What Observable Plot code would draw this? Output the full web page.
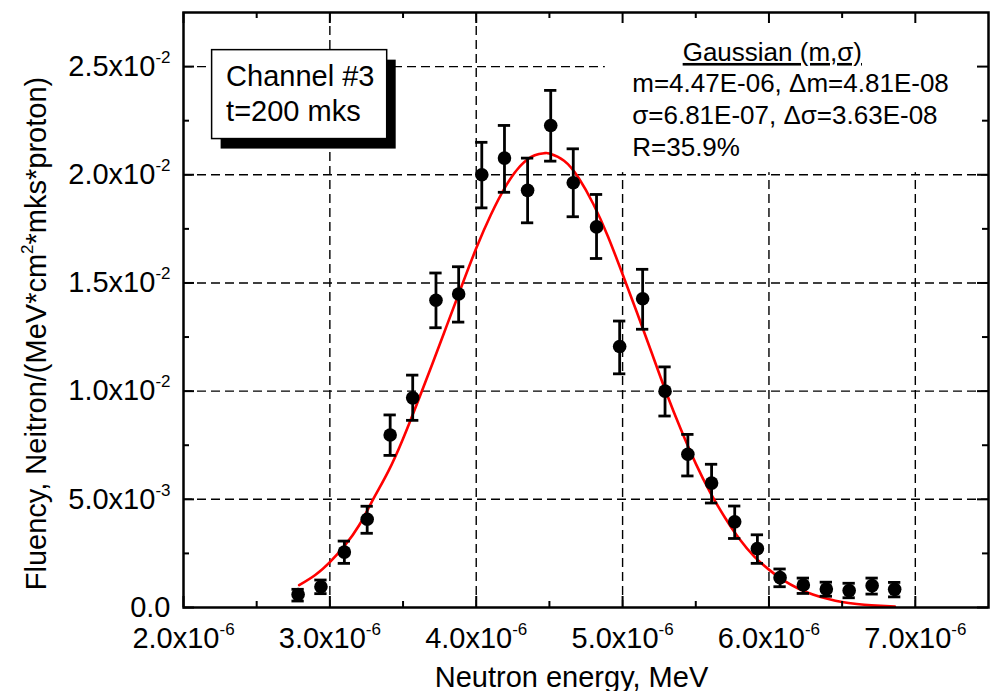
<!DOCTYPE html>
<html><head><meta charset="utf-8">
<script src="https://cdn.jsdelivr.net/npm/d3@7"></script>
<script src="https://cdn.jsdelivr.net/npm/@observablehq/plot@0.6"></script>
<style>body{margin:0;background:#fff}</style>
</head><body><div id="chart"></div>
<script>
// ---- data (energy in 1e-6 MeV, fluency in 1e-3) ----
const energy  = [2.783, 2.939, 3.099, 3.255, 3.412, 3.566, 3.725, 3.880, 4.038, 4.193, 4.351, 4.509, 4.663, 4.822, 4.980, 5.137, 5.290, 5.446, 5.608, 5.766, 5.921, 6.076, 6.235, 6.392, 6.548, 6.705, 6.859];
const fluency = [0.60, 0.96, 2.56, 4.08, 7.97, 9.69, 14.20, 14.49, 20.00, 20.77, 19.28, 22.28, 19.63, 17.59, 12.06, 14.27, 10.00, 7.08, 5.75, 3.96, 2.72, 1.38, 1.04, 0.85, 0.78, 1.01, 0.84];
const errHigh = [0.84, 1.27, 3.07, 4.68, 8.90, 10.74, 15.46, 15.75, 21.50, 22.28, 20.77, 23.90, 21.20, 19.09, 13.24, 15.63, 11.12, 8.00, 6.62, 4.69, 3.36, 1.78, 1.36, 1.17, 1.12, 1.36, 1.16];
const errLow  = [0.30, 0.64, 2.04, 3.43, 7.03, 8.65, 12.93, 13.19, 18.47, 19.19, 17.78, 20.63, 18.06, 16.13, 10.80, 12.86, 8.85, 6.08, 4.83, 3.19, 2.04, 0.96, 0.65, 0.52, 0.45, 0.62, 0.49];

// Gaussian fit curve
const fitEnergy  = [2.79, 2.9, 3.0, 3.1, 3.2, 3.3, 3.4, 3.5, 3.6, 3.7, 3.8, 3.9, 4.0, 4.1, 4.2, 4.3, 4.4, 4.47, 4.5, 4.6, 4.7, 4.8, 4.9, 5.0, 5.1, 5.2, 5.3, 5.4, 5.5, 5.6, 5.7, 5.8, 5.9, 6.0, 6.1, 6.2, 6.3, 6.4, 6.5, 6.6, 6.7, 6.86];
const fitFluency = [1.03, 1.50, 2.10, 2.85, 3.80, 5.05, 6.30, 7.80, 9.50, 11.25, 13.05, 14.85, 16.60, 18.15, 19.45, 20.40, 20.90, 21.00, 20.98, 20.65, 19.85, 18.65, 17.15, 15.40, 13.60, 11.75, 9.90, 8.20, 6.65, 5.30, 4.15, 3.15, 2.35, 1.75, 1.25, 0.88, 0.60, 0.40, 0.25, 0.16, 0.10, 0.04];

// axes
const xTicks = [2e-6, 3e-6, 4e-6, 5e-6, 6e-6, 7e-6];
const xTickLabels = ["2.0x10^{-6}", "3.0x10^{-6}", "4.0x10^{-6}", "5.0x10^{-6}", "6.0x10^{-6}", "7.0x10^{-6}"];
const xMinor = [2.5e-6, 3.5e-6, 4.5e-6, 5.5e-6, 6.5e-6];
const yTicks = [0, 0.005, 0.010, 0.015, 0.020, 0.025];
const yTickLabels = ["0.0", "5.0x10^{-3}", "1.0x10^{-2}", "1.5x10^{-2}", "2.0x10^{-2}", "2.5x10^{-2}"];
const yMinor = [0.0025, 0.0075, 0.0125, 0.0175, 0.0225];
const xTitle = "Neutron energy, MeV";
const yTitle = "Fluency, Neitron/(MeV*cm^{2}*mks*proton)";
const channelText = ["Channel #3", "t=200 mks"];
const fitTitle = "Gaussian (m,σ)";
const fitText = ["m=4.47E-06, Δm=4.81E-08", "σ=6.81E-07, Δσ=3.63E-08", "R=35.9%"];

// ---- build tables ----
const points = energy.map((e, i) => ({x: e * 1e-6, y: fluency[i] * 1e-3, hi: errHigh[i] * 1e-3, lo: errLow[i] * 1e-3}));
const fit = fitEnergy.map((e, i) => ({x: e * 1e-6, y: fitFluency[i] * 1e-3}));
const xGrid = xTicks.slice(1);
const yGrid = yTicks.slice(1);
const cap = 0.042e-6;

const coverBox = [{x1: 4.882e-6, x2: 7.5e-6, y1: 0.0201, y2: 0.0275}];
const chanBox = [{x1: 2.1955e-6, x2: 3.3917e-6, y1: 0.02165, y2: 0.02576}];
const chanLabels = [{x: 2.291e-6, y: 0.02410, t: channelText[0]}, {x: 2.291e-6, y: 0.02248, t: channelText[1]}];
const fitLabels = [
  {x: 5.066e-6, y: 0.02382, t: fitText[0]},
  {x: 5.066e-6, y: 0.02234, t: fitText[1]},
  {x: 5.066e-6, y: 0.02086, t: fitText[2]}
];

const FH = 595, FW = 805;
const dash = {stroke: "black", strokeWidth: 1.4, strokeDasharray: "9,5"};
const font = "Liberation Sans, Arial, Helvetica, sans-serif";

const chart = Plot.plot({
  width: 998, height: 691,
  marginLeft: 183, marginRight: 10, marginTop: 12, marginBottom: 84,
  style: {fontFamily: font, fontSize: "29px", background: "white", color: "black"},
  x: {domain: [2e-6, 7.5e-6], axis: null},
  y: {domain: [0, 0.0275], axis: null},
  marks: [
    Plot.ruleX(xGrid, dash),
    Plot.ruleY(yGrid, dash),
    Plot.rect(coverBox, {x1: "x1", x2: "x2", y1: "y1", y2: "y2", fill: "white"}),
    Plot.rect(chanBox, {x1: "x1", x2: "x2", y1: "y1", y2: "y2", fill: "black", dx: 9, dy: 10}),
    Plot.rect(chanBox, {x1: "x1", x2: "x2", y1: "y1", y2: "y2", fill: "white", stroke: "black", strokeWidth: 1.5}),
    Plot.text(chanLabels, {x: "x", y: "y", text: "t", textAnchor: "start", lineAnchor: "bottom", fontSize: 29}),
    Plot.text([fitTitle], {x: () => 6.023e-6, y: () => 0.02526, text: d => d, textAnchor: "middle", lineAnchor: "bottom", fontSize: 26}),
    Plot.text(fitLabels, {x: "x", y: "y", text: "t", textAnchor: "start", lineAnchor: "bottom", fontSize: 26}),
    Plot.line(fit, {x: "x", y: "y", stroke: "red", strokeWidth: 2.6, curve: "natural"}),
    Plot.ruleX(points, {x: "x", y1: "lo", y2: "hi", stroke: "black", strokeWidth: 2.8}),
    Plot.ruleY(points, {y: "hi", x1: d => d.x - cap, x2: d => d.x + cap, stroke: "black", strokeWidth: 2.8}),
    Plot.ruleY(points, {y: "lo", x1: d => d.x - cap, x2: d => d.x + cap, stroke: "black", strokeWidth: 2.8}),
    Plot.dot(points, {x: "x", y: "y", r: 6.8, fill: "black"}),
    // inward ticks on all four sides
    Plot.ruleX(xTicks, {insetTop: FH - 11, stroke: "black", strokeWidth: 2}),
    Plot.ruleX(xTicks, {insetBottom: FH - 11, stroke: "black", strokeWidth: 2}),
    Plot.ruleX(xMinor, {insetTop: FH - 6, stroke: "black", strokeWidth: 2}),
    Plot.ruleX(xMinor, {insetBottom: FH - 6, stroke: "black", strokeWidth: 2}),
    Plot.ruleY(yTicks, {insetRight: FW - 11, stroke: "black", strokeWidth: 2}),
    Plot.ruleY(yTicks, {insetLeft: FW - 11, stroke: "black", strokeWidth: 2}),
    Plot.ruleY(yMinor, {insetRight: FW - 6, stroke: "black", strokeWidth: 2}),
    Plot.ruleY(yMinor, {insetLeft: FW - 6, stroke: "black", strokeWidth: 2}),
    Plot.frame({stroke: "black", strokeWidth: 2.5}),
    Plot.axisX({anchor: "bottom", ticks: xTicks, tickFormat: d => xTickLabels[xTicks.indexOf(d)], tickSize: 0, tickPadding: 20, fontSize: 29, label: null}),
    Plot.axisY({anchor: "left", ticks: yTicks, tickFormat: d => yTickLabels[yTicks.indexOf(d)], tickSize: 0, tickPadding: 13, fontSize: 29, label: null}),
    Plot.text([xTitle], {frameAnchor: "bottom", text: d => d, dx: -14.5, dy: 79, lineAnchor: "bottom", textAnchor: "middle", fontSize: 29}),
    Plot.text([yTitle], {frameAnchor: "left", text: d => d, rotate: -90, dx: -138, dy: 23.5, lineAnchor: "bottom", textAnchor: "middle", fontSize: 29})
  ]
});
document.getElementById("chart").append(chart);

// superscripts: "a^{b}c" -> tspans
const NS = "http://www.w3.org/2000/svg";
chart.querySelectorAll("text").forEach(el => {
  const s = el.textContent;
  if (s.startsWith("Gaussian")) el.style.textDecoration = "underline";
  if (!s.includes("^{")) return;
  const parts = s.split(/\^\{([^}]*)\}/);
  el.textContent = "";
  let raised = false;
  parts.forEach((p, i) => {
    if (p === "") return;
    const t = document.createElementNS(NS, "tspan");
    if (i % 2 === 1) { t.setAttribute("font-size", "17px"); t.setAttribute("dy", "-13"); raised = true; }
    else if (raised) { t.setAttribute("dy", "13"); raised = false; }
    t.textContent = p;
    el.appendChild(t);
  });
});
</script></body></html>
